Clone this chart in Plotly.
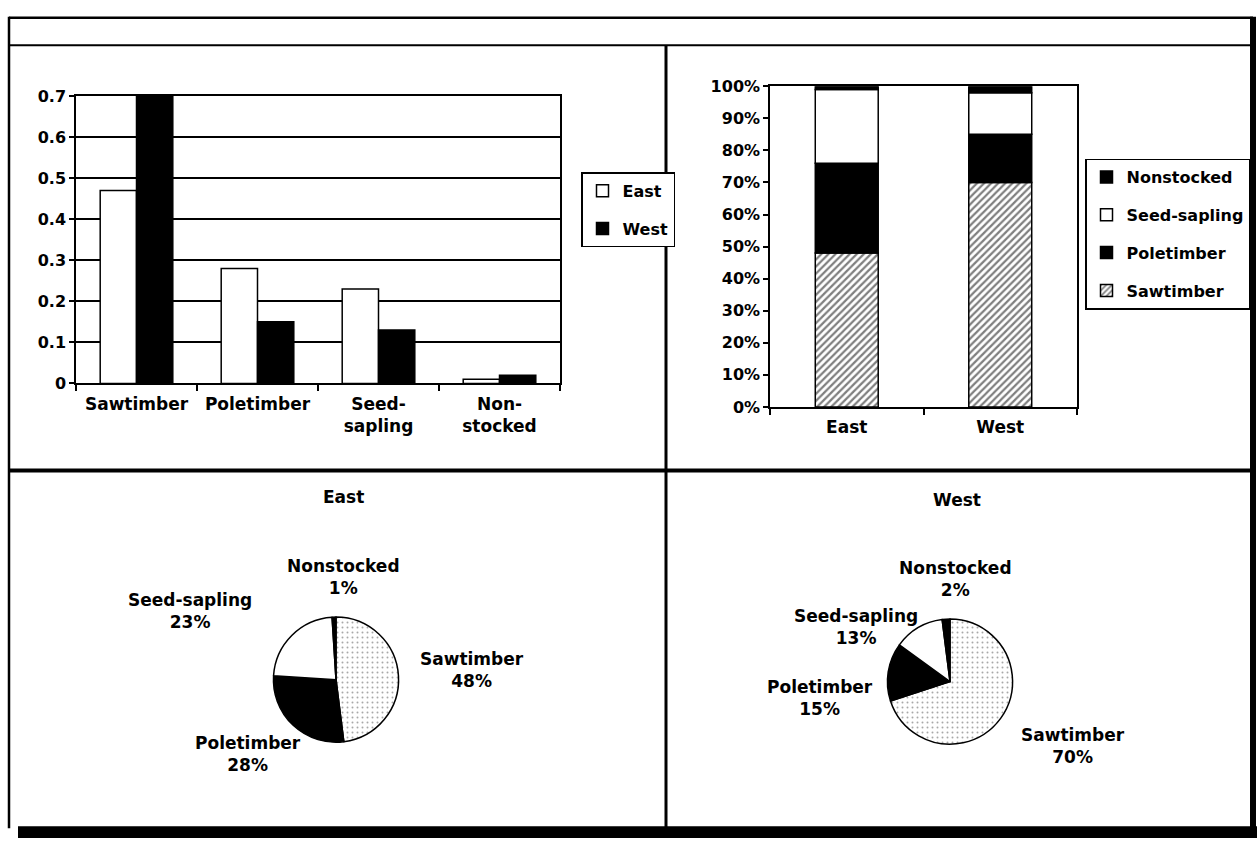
import plotly.graph_objects as go

# ---------------- data ----------------
classes = ["Sawtimber", "Poletimber", "Seed-sapling", "Nonstocked"]
class_ticktext = ["Sawtimber", "Poletimber", "Seed-<br>sapling", "Non-<br>stocked"]
east_share = [0.47, 0.28, 0.23, 0.01]
west_share = [0.70, 0.15, 0.13, 0.02]
regions = ["East", "West"]
east_pct = [48, 28, 23, 1]
west_pct = [70, 15, 13, 2]
share_ticks = [0, 0.1, 0.2, 0.3, 0.4, 0.5, 0.6, 0.7]
pct_ticks = [0, 10, 20, 30, 40, 50, 60, 70, 80, 90, 100]
pct_ticktext = [f"{v}%" for v in pct_ticks]

# ---------------- layout helpers ----------------
W, H = 1257, 851
FONT = "DejaVu Sans"


def px(x):
    return x / W


def py(y):
    return 1 - y / H


def bfont(size):
    return dict(family=FONT, size=size, color="black", weight="bold")


fig = go.Figure()

# ---- top-left: grouped bar (explicit offsets, overlay mode) ----
fig.add_trace(go.Bar(
    x=classes, y=east_share, name="East", xaxis="x", yaxis="y",
    offset=-0.3, width=0.3,
    marker=dict(color="white", line=dict(color="black", width=1.5)),
    legend="legend", legendgroup="e", legendrank=1,
))
fig.add_trace(go.Bar(
    x=classes, y=west_share, name="West", xaxis="x", yaxis="y",
    offset=0.0, width=0.3,
    marker=dict(color="black", line=dict(color="black", width=1.5)),
    legend="legend", legendgroup="w", legendrank=2,
))

# ---- top-right: 100% stacked bar ----
stack_styles = [
    dict(color="white", line=dict(color="black", width=1.5),
         pattern=dict(shape="/", fgcolor="black", bgcolor="white", size=5, solidity=0.45)),
    dict(color="black", line=dict(color="black", width=1.5)),
    dict(color="white", line=dict(color="black", width=1.5)),
    dict(color="black", line=dict(color="black", width=1.5)),
]
cum_e, cum_w = 0, 0
n = len(classes)
for i, cls in enumerate(classes):
    fig.add_trace(go.Bar(
        x=regions, y=[east_pct[i], west_pct[i]], base=[cum_e, cum_w],
        name=cls, xaxis="x2", yaxis="y2", width=0.41,
        marker=stack_styles[i], legend="legend2", legendgroup=cls,
        legendrank=n - i,
    ))
    cum_e += east_pct[i]
    cum_w += west_pct[i]

# ---- pies ----
pie_colors = ["white", "black", "white", "black"]
pie_pattern = dict(shape=[".", "", "", ""], fgcolor="#a8a8a8", bgcolor="white",
                   size=5, solidity=0.12)
pie_common = dict(sort=False, direction="clockwise", rotation=0, textinfo="none",
                  showlegend=False, hoverinfo="label+percent",
                  marker=dict(colors=pie_colors, line=dict(color="black", width=1.5),
                              pattern=pie_pattern))
fig.add_trace(go.Pie(labels=classes, values=east_pct,
                     domain=dict(x=[px(272), px(400)], y=[py(750), py(622)]),
                     **pie_common))
fig.add_trace(go.Pie(labels=classes, values=west_pct,
                     domain=dict(x=[px(886), px(1014)], y=[py(752), py(624)]),
                     **pie_common))

# ---------------- annotations ----------------
annotations = [
    dict(text="East", x=px(343), y=py(499)),
    dict(text="West", x=px(957), y=py(502)),
]
east_label_pos = {"Sawtimber": (472, 676), "Poletimber": (248, 762),
                  "Seed-sapling": (190, 616), "Nonstocked": (343, 581)}
west_label_pos = {"Sawtimber": (1073, 754), "Poletimber": (820, 705),
                  "Seed-sapling": (856, 632), "Nonstocked": (955, 583)}
for cls, v in zip(classes, east_pct):
    x, y = east_label_pos[cls]
    annotations.append(dict(text=f"{cls}<br>{v}%", x=px(x), y=py(y)))
for cls, v in zip(classes, west_pct):
    x, y = west_label_pos[cls]
    annotations.append(dict(text=f"{cls}<br>{v}%", x=px(x), y=py(y)))
for a in annotations:
    a.update(xref="paper", yref="paper", showarrow=False, xanchor="center",
             yanchor="middle", font=bfont(17), align="center")

# ---------------- frame shapes ----------------
def hline(y, x0, x1, w):
    return dict(type="line", xref="paper", yref="paper", x0=px(x0), x1=px(x1),
                y0=py(y), y1=py(y), line=dict(color="black", width=w))


def vline(x, y0, y1, w):
    return dict(type="line", xref="paper", yref="paper", x0=px(x), x1=px(x),
                y0=py(y0), y1=py(y1), line=dict(color="black", width=w))


shapes = [
    hline(9, 9, 1253, 2.5),
    hline(37, 9, 1253, 2),
    hline(472, 9, 1253, 4),
    vline(9, 8, 838, 2.5),
    vline(666, 37, 838, 3),
    vline(1253, 8, 848, 6),
    dict(type="rect", xref="paper", yref="paper", x0=px(18), x1=1,
         y0=py(848), y1=py(836), fillcolor="black", line=dict(width=0)),
]

axis_common = dict(showline=True, linecolor="black", linewidth=1.5, mirror=True,
                   ticks="outside", tickcolor="black", tickwidth=1.5,
                   zeroline=False, fixedrange=True)

fig.update_layout(
    width=W, height=H,
    margin=dict(l=0, r=0, t=0, b=0),
    paper_bgcolor="white", plot_bgcolor="white",
    barmode="overlay",
    font=dict(family=FONT, color="black", weight="bold"),
    xaxis=dict(domain=[px(76), px(560)], anchor="y", type="category",
               categoryorder="array", categoryarray=classes,
               tickvals=classes, ticktext=class_ticktext, tickfont=bfont(17),
               ticklabelstandoff=4,
               tickson="boundaries", ticklen=6, showgrid=False, **axis_common),
    yaxis=dict(domain=[py(383), py(89)], anchor="x", range=[0, 0.7],
               tickvals=share_ticks, ticklen=5, showgrid=True, tickfont=bfont(16),
               gridcolor="black", gridwidth=1.5, **axis_common),
    xaxis2=dict(domain=[px(770), px(1077)], anchor="y2", type="category",
                categoryorder="array", categoryarray=regions, tickfont=bfont(17),
                ticklabelstandoff=4,
                tickson="boundaries", ticklen=6, showgrid=False, **axis_common),
    yaxis2=dict(domain=[py(407), py(79)], anchor="x2", range=[0, 100],
                tickvals=pct_ticks, ticktext=pct_ticktext, ticklen=5, showgrid=False,
                tickfont=bfont(16), **axis_common),
    legend=dict(x=px(581), y=py(167), xanchor="left", yanchor="top",
                bordercolor="black", borderwidth=1.5, bgcolor="white",
                font=bfont(16), traceorder="grouped", tracegroupgap=14),
    legend2=dict(x=px(1085), y=py(153), xanchor="left", yanchor="top",
                 bordercolor="black", borderwidth=1.5, bgcolor="white",
                 font=bfont(16), traceorder="grouped", tracegroupgap=14),
    annotations=annotations,
    shapes=shapes,
)

fig.write_html(
    "out.html",
    post_script="document.body.style.margin='0';document.body.style.padding='0';",
)
